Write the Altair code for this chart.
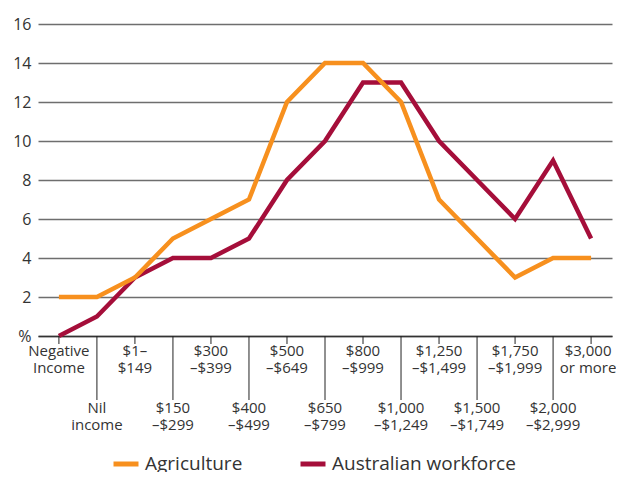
import altair as alt
import pandas as pd

categories = ["Negative|Income", "Nil|income", "$1–|$149", "$150|–$299", "$300|–$399",
              "$400|–$499", "$500|–$649", "$650|–$799", "$800|–$999", "$1,000|–$1,249",
              "$1,250|–$1,499", "$1,500|–$1,749", "$1,750|–$1,999", "$2,000|–$2,999",
              "$3,000|or more"]
agriculture = [2, 2, 3, 5, 6, 7, 12, 14, 14, 12, 7, 5, 3, 4, 4]
workforce = [0, 1, 3, 4, 4, 5, 8, 10, 13, 13, 10, 8, 6, 9, 5]
series = ["Agriculture", "Australian workforce"]
colors = ["#F7901E", "#A50E3A"]
y_ticks = [0, 2, 4, 6, 8, 10, 12, 14, 16]

rows = []
for c, a, w in zip(categories, agriculture, workforce):
    rows.append({"category": c, "series": series[0], "value": a})
    rows.append({"category": c, "series": series[1], "value": w})
df = pd.DataFrame(rows)
n = len(categories)
lab = pd.DataFrame({"category": categories,
                    "row": [i % 2 for i in range(n)],
                    "last": [i == n - 1 for i in range(n)]})

FONT = "Open Sans"

xenc = alt.X("category:N", sort=categories,
             scale=alt.Scale(type="point", padding=0.55),
             axis=alt.Axis(labels=False, ticks=False, title=None, domain=True,
                           domainColor="#333", domainWidth=1.5))
yenc = alt.Y("value:Q", scale=alt.Scale(domain=[0, 16], nice=False),
             axis=alt.Axis(values=y_ticks, title=None, domain=False, ticks=False,
                           labelExpr="datum.value == 0 ? '%' : datum.label",
                           labelFontSize=16, labelFont=FONT, labelColor="#333",
                           labelPadding=7, gridColor="#6e6e6e", gridWidth=1.5))
cenc = alt.Color("series:N", scale=alt.Scale(domain=series, range=colors),
                 legend=alt.Legend(title=None, orient="none", legendX=73, legendY=425,
                                   direction="horizontal", symbolType="stroke",
                                   symbolStrokeWidth=5, symbolSize=625,
                                   labelFontSize=19, labelFont=FONT, labelColor="#333",
                                   labelLimit=400, columnPadding=47, labelOffset=4))

base = alt.Chart(df)
maroon = base.transform_filter(alt.datum.series == series[1]).mark_line(
    strokeWidth=4.5).encode(x=xenc, y=yenc, color=cenc)
orange = base.transform_filter(alt.datum.series == series[0]).mark_line(
    strokeWidth=4.5).encode(x=xenc, y=yenc, color=cenc)

lb = alt.Chart(lab)
xcat = alt.X("category:N", sort=categories)
short_ticks = lb.transform_filter(alt.datum.row == 0).mark_rule(
    color="#222", strokeWidth=1).encode(x=xcat, y=alt.value(312), y2=alt.value(320))
long_ticks = lb.transform_filter(alt.datum.row == 1).mark_rule(
    color="#222", strokeWidth=1).encode(x=xcat, y=alt.value(312), y2=alt.value(376))
text_style = dict(lineBreak="|", fontSize=15, font=FONT, color="#333",
                  baseline="top", align="center", lineHeight=17)
top_labels = lb.transform_filter((alt.datum.row == 0) & (~alt.datum.last)).mark_text(
    **text_style).encode(x=xcat, y=alt.value(320), text="category:N")
last_label = lb.transform_filter(alt.datum.last).mark_text(
    dx=-3, **text_style).encode(x=xcat, y=alt.value(320), text="category:N")
bottom_labels = lb.transform_filter(alt.datum.row == 1).mark_text(
    **text_style).encode(x=xcat, y=alt.value(377), text="category:N")

chart = alt.layer(maroon, orange, short_ticks, long_ticks,
                  top_labels, last_label, bottom_labels).properties(
    width=574, height=312,
    autosize=alt.AutoSizeParams(type="none"),
    padding={"left": 30, "top": 16, "right": 4, "bottom": 136}
).configure_view(stroke=None)

chart.save("out.html", embed_options={"renderer": "svg", "actions": False})
